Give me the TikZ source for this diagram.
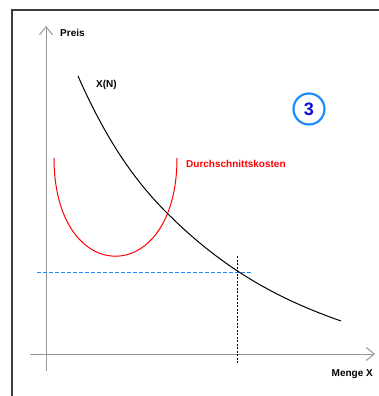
\documentclass[tikz,border=0pt]{standalone}
\usepackage{fontspec}
\setmainfont{Liberation Sans}
\usetikzlibrary{arrows.meta}
\definecolor{axisgray}{RGB}{150,150,150}
\definecolor{framegray}{RGB}{60,60,60}
\definecolor{lineblue}{RGB}{30,140,255}
\definecolor{digitblue}{RGB}{10,10,220}
\tikzset{
  x=1pt, y=-1pt,
  lbl/.style={font=\fontsize{10}{12}\selectfont\bfseries, inner sep=0pt, anchor=west},
  axis/.style={draw=axisgray, line width=1pt, -{Straight Barb[length=8pt,width=13pt,line width=1pt]}},
  frame/.style={draw=framegray, line width=1.6pt},
}
\begin{document}
\begin{tikzpicture}
\useasboundingbox (0,0) rectangle (379,396);
% frame
\draw[frame] (12,396) -- (12,10) -- (379,10);
% axes
\coordinate (yb) at (46,371);
\coordinate (yt) at (46,26);
\coordinate (xl) at (30,354);
\coordinate (xr) at (375,354);
\draw[axis] (yb) -- (yt);
\draw[axis] (xl) -- (xr);
\node[lbl] (preis) at (60,33) {Preis};
\node[lbl, anchor=east] (menge) at (373,374) {Menge X};
% guide lines
\coordinate (hl) at (37,272);
\coordinate (hr) at (252,272);
\draw[lineblue, line width=1pt, dash pattern=on 4pt off 2pt] (hl) -- (hr);
\coordinate (vt) at (237,256);
\coordinate (vb) at (237,363);
\draw[black, line width=0.8pt, dash pattern=on 2pt off 1.5pt] (vt) -- (vb);
% red U curve
\coordinate (ra) at (54,158);
\coordinate (rb) at (177,158);
\draw[red, line width=1pt] (ra) .. controls (54,289) and (177,289) .. (rb);
\node[lbl, text=red] (dk) at (186,164) {Durchschnittskosten};
% black demand curve
\coordinate (ca) at (78,76);
\coordinate (cm) at (167,213);
\coordinate (cb) at (341,321);
\draw[black, line width=1pt] (ca) .. controls (108,144) and (137,183) .. (cm)
  .. controls (225,271) and (281,300) .. (cb);
\node[lbl] (xn) at (96,85) {X(N)};
% circle 3
\node[circle, draw=lineblue, line width=2.2pt, minimum size=31pt, inner sep=0pt,
      text=digitblue, font=\fontsize{18}{20}\selectfont\bfseries] (three) at (309,109) {3};
\end{tikzpicture}
\end{document}
